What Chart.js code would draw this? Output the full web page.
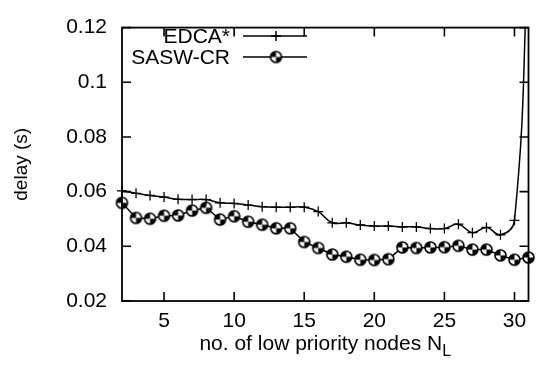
<!DOCTYPE html>
<html>
<head>
<meta charset="utf-8">
<script src="https://cdn.jsdelivr.net/npm/chart.js@4.4.0/dist/chart.umd.min.js"></script>
<style>
  html, body { margin: 0; padding: 0; background: #fff; }
  #wrap { width: 536px; height: 374px; }
</style>
</head>
<body>
<div id="wrap"><canvas id="delayChart" width="536" height="374"></canvas></div>
<script>
// number of low priority nodes N_L
const nodes = [2, 3, 4, 5, 6, 7, 8, 9, 10, 11, 12, 13, 14, 15, 16,
               17, 18, 19, 20, 21, 22, 23, 24, 25, 26, 27, 28, 29, 30, 31];
// delay (s)
const edca = [0.0603, 0.0594, 0.0586, 0.0580, 0.0572, 0.0571, 0.0571, 0.0559, 0.0557, 0.0551,
              0.0545, 0.0543, 0.0543, 0.0543, 0.0527, 0.0486, 0.0486, 0.0478, 0.0474, 0.0474,
              0.0471, 0.0471, 0.0465, 0.0465, 0.0481, 0.0450, 0.0469, 0.0442, 0.0495, 0.150];
const sasw = [0.0559, 0.0504, 0.0501, 0.0512, 0.0513, 0.0531, 0.0541, 0.0498, 0.0510, 0.0490,
              0.0479, 0.0466, 0.0466, 0.0416, 0.0394, 0.0370, 0.0362, 0.0351, 0.0350, 0.0353,
              0.0396, 0.0394, 0.0396, 0.0397, 0.0402, 0.0388, 0.0388, 0.0367, 0.0351, 0.0359];
const seriesNames = ['EDCA*', 'SASW-CR'];
const xTicks = [5, 10, 15, 20, 25, 30];
const yTicks = [0.02, 0.04, 0.06, 0.08, 0.1, 0.12];
const yTickLabels = ['0.02', '0.04', '0.06', '0.08', '0.1', '0.12'];

const FONT = "'Liberation Sans', Arial, Helvetica, sans-serif";
const FSIZE = 21;

// half-filled circle marker like the gnuplot one
function makeMarker() {
    const c = document.createElement('canvas');
    c.width = 15; c.height = 15;
    const g = c.getContext('2d');
    const cx = 7.5, cy = 7.5, r = 5.5;
    g.fillStyle = '#fff';
    g.beginPath(); g.arc(cx, cy, r, 0, Math.PI * 2); g.fill();
    g.fillStyle = '#000';
    g.beginPath(); g.moveTo(cx, cy); g.arc(cx, cy, r, Math.PI, Math.PI * 1.5); g.closePath(); g.fill();
    g.beginPath(); g.moveTo(cx, cy); g.arc(cx, cy, r, 0, Math.PI * 0.5); g.closePath(); g.fill();
    g.strokeStyle = '#000'; g.lineWidth = 1.6;
    g.beginPath(); g.arc(cx, cy, r, 0, Math.PI * 2); g.stroke();
    return c;
}
const circleMarker = makeMarker();

// box around the plot with inward ticks on all four sides
const framePlugin = {
    id: 'frame',
    afterDatasetsDraw(chart) {
        const { ctx, chartArea: a, scales: { x, y } } = chart;
        const tl = 9;
        ctx.save();
        ctx.strokeStyle = '#000';
        ctx.lineWidth = 1.6;
        ctx.beginPath();
        x.ticks.forEach(t => {
            const px = x.getPixelForValue(t.value);
            ctx.moveTo(px, a.bottom); ctx.lineTo(px, a.bottom - tl);
            ctx.moveTo(px, a.top); ctx.lineTo(px, a.top + tl);
        });
        y.ticks.forEach(t => {
            const py = y.getPixelForValue(t.value);
            ctx.moveTo(a.left, py); ctx.lineTo(a.left + tl, py);
            ctx.moveTo(a.right, py); ctx.lineTo(a.right - tl, py);
        });
        ctx.stroke();
        ctx.lineWidth = 1.8;
        ctx.strokeRect(a.left, a.top, a.right - a.left, a.bottom - a.top);
        ctx.restore();
    }
};

// gnuplot style key: label right-aligned, then line sample with marker
const keyPlugin = {
    id: 'key',
    afterDraw(chart) {
        const { ctx } = chart;
        const textRight = 230, lineL = 243, lineR = 307, mid = 276;
        const rows = [36, 57];
        ctx.save();
        ctx.font = FSIZE + 'px ' + FONT;
        ctx.fillStyle = '#000';
        ctx.textAlign = 'right';
        ctx.textBaseline = 'middle';
        rows.forEach((ry, i) => {
            ctx.fillText(seriesNames[i], textRight, ry + 1);
            ctx.strokeStyle = '#000';
            ctx.lineWidth = 1.5;
            ctx.beginPath(); ctx.moveTo(lineL, ry); ctx.lineTo(lineR, ry); ctx.stroke();
            if (i === 0) {
                ctx.beginPath();
                ctx.moveTo(mid - 5, ry); ctx.lineTo(mid + 5, ry);
                ctx.moveTo(mid, ry - 5); ctx.lineTo(mid, ry + 5);
                ctx.stroke();
            } else {
                ctx.drawImage(circleMarker, mid - 7.5, ry - 7.5);
            }
        });
        ctx.restore();
    }
};

// x axis title with subscript L
const xTitlePlugin = {
    id: 'xTitle',
    afterDraw(chart) {
        const { ctx, chartArea: a } = chart;
        const main = 'no. of low priority nodes N';
        const sub = 'L';
        ctx.save();
        ctx.fillStyle = '#000';
        ctx.textBaseline = 'alphabetic';
        ctx.textAlign = 'left';
        ctx.font = FSIZE + 'px ' + FONT;
        const w1 = ctx.measureText(main).width;
        ctx.font = '16px ' + FONT;
        const w2 = ctx.measureText(sub).width;
        const x0 = (a.left + a.right) / 2 - (w1 + w2) / 2;
        const base = 350;
        ctx.font = FSIZE + 'px ' + FONT;
        ctx.fillText(main, x0, base);
        ctx.font = '16px ' + FONT;
        ctx.fillText(sub, x0 + w1, base + 6);
        ctx.restore();
    }
};

new Chart(document.getElementById('delayChart'), {
    type: 'line',
    data: {
        labels: nodes,
        datasets: [{
            label: seriesNames[0],
            data: nodes.map((n, i) => ({ x: n, y: edca[i] })),
            borderColor: '#000',
            backgroundColor: '#000',
            borderWidth: 1.5,
            tension: 0.45,
            pointStyle: 'cross',
            pointRadius: 5,
            pointBorderWidth: 1.3,
            clip: { left: 10, top: 0, right: 10, bottom: 10 }
        }, {
            label: seriesNames[1],
            data: nodes.map((n, i) => ({ x: n, y: sasw[i] })),
            borderColor: '#000',
            backgroundColor: '#000',
            borderWidth: 1.5,
            tension: 0,
            pointStyle: circleMarker,
            pointRadius: 6,
            clip: 10
        }]
    },
    options: {
        responsive: false,
        animation: false,
        layout: { padding: { top: 14, right: 4, left: 0, bottom: 0 } },
        plugins: {
            legend: { display: false },
            tooltip: { enabled: false }
        },
        scales: {
            x: {
                type: 'linear',
                min: 2,
                max: 31,
                grid: { display: false, drawTicks: false },
                border: { display: false },
                afterBuildTicks: scale => { scale.ticks = xTicks.map(v => ({ value: v })); },
                afterFit: scale => { scale.height = 73; },
                ticks: {
                    color: '#000',
                    padding: 8,
                    maxRotation: 0,
                    font: { family: FONT, size: FSIZE }
                }
            },
            y: {
                min: 0.02,
                max: 0.12,
                grid: { display: false, drawTicks: false },
                border: { display: false },
                afterBuildTicks: scale => { scale.ticks = yTicks.map(v => ({ value: v })); },
                afterFit: scale => { scale.width = 122; },
                ticks: {
                    color: '#000',
                    padding: 15,
                    font: { family: FONT, size: FSIZE },
                    callback: (v, i) => yTickLabels[i]
                },
                title: {
                    display: true,
                    text: 'delay (s)',
                    color: '#000',
                    padding: { top: 10, bottom: 0 },
                    font: { family: FONT, size: FSIZE - 2 }
                }
            }
        }
    },
    plugins: [framePlugin, keyPlugin, xTitlePlugin]
});
</script>
</body>
</html>
